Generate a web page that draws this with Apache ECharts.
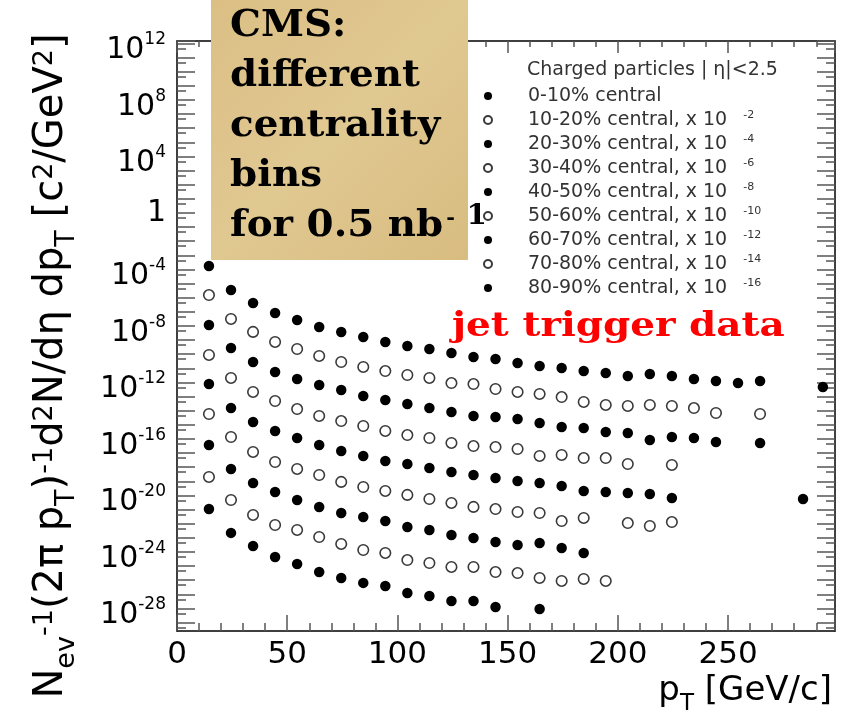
<!DOCTYPE html>
<html><head><meta charset="utf-8">
<script src="https://cdn.jsdelivr.net/npm/echarts@6/dist/echarts.min.js"></script>
<style>html,body{margin:0;padding:0;background:#fff}#c{width:848px;height:720px}</style>
</head><body><div id="c"></div>
<script>
// pT bin centres [GeV/c]
const pT = [14.5,24.5,34.5,44.5,54.5,64.5,74.5,84.5,94.5,104.5,114.5,124.5,134.5,144.5,154.5,164.5,174.5,184.5,194.5,204.5,214.5,224.5,234.5,244.5,254.5,264.5,284,293];
const seriesNames = ['0-10% central','10-20% central','20-30% central','30-40% central','40-50% central','50-60% central','60-70% central','70-80% central','80-90% central'];
const scaleExp = [0,-2,-4,-6,-8,-10,-12,-14,-16];
// log10 of the (scaled) yield
const c0_10  = [-3.75,-5.45,-6.37,-7.08,-7.58,-8.07,-8.42,-8.78,-9.13,-9.42,-9.63,-9.91,-10.19,-10.34,-10.62,-10.83,-10.97,-11.19,-11.33,-11.54,-11.40,-11.54,-11.75,-11.89,-12.04,-11.89,null,-12.32];
const c10_20 = [-5.81,-7.50,-8.42,-9.13,-9.63,-10.12,-10.55,-10.90,-11.19,-11.47,-11.68,-12.04,-12.11,-12.46,-12.67,-12.81,-13.03,-13.38,-13.59,-13.66,-13.59,-13.66,-13.81,-14.16,null,-14.23,null,null];
const c20_30 = [-7.93,-9.56,-10.55,-11.26,-11.75,-12.18,-12.53,-12.96,-13.24,-13.52,-13.81,-14.09,-14.37,-14.44,-14.58,-14.87,-15.15,-15.22,-15.50,-15.58,-16.07,-15.86,-15.93,-16.21,null,-16.28,null,null];
const c30_40 = [-10.05,-11.68,-12.67,-13.31,-13.88,-14.37,-14.73,-15.08,-15.43,-15.72,-15.93,-16.28,-16.50,-16.57,-16.71,-17.20,-17.13,-17.35,-17.35,-17.77,null,-17.84,null,null,null,null,null,null];
const c40_50 = [-12.11,-13.81,-14.80,-15.43,-15.93,-16.42,-16.85,-17.20,-17.56,-17.77,-18.05,-18.34,-18.55,-18.76,-18.97,-19.12,-19.33,-19.68,-19.75,-19.82,-19.89,-20.18,null,null,null,null,-20.25,null];
const c50_60 = [-14.23,-15.86,-16.92,-17.63,-18.12,-18.55,-19.04,-19.40,-19.68,-19.96,-20.25,-20.53,-20.81,-20.96,-21.17,-21.24,-21.81,-21.59,null,-21.95,-22.16,-21.88,null,null,null,null,null,null];
const c60_70 = [-16.42,-18.12,-19.12,-19.75,-20.32,-20.81,-21.24,-21.52,-21.81,-22.23,-22.44,-22.80,-23.01,-23.29,-23.50,-23.36,-23.72,-24.07,null,null,null,null,null,null,null,null,null,null];
const c70_80 = [-18.69,-20.32,-21.38,-22.09,-22.44,-22.94,-23.43,-23.86,-24.07,-24.57,-24.78,-25.06,-25.06,-25.42,-25.49,-25.84,-26.05,-25.91,-26.05,null,null,null,null,null,null,null,null,null];
const c80_90 = [-20.96,-22.65,-23.58,-24.35,-24.85,-25.42,-25.84,-26.19,-26.41,-26.90,-27.12,-27.47,-27.47,-27.89,null,-28.04,null,null,null,null,null,null,null,null,null,null,null,null];
const allSeries = [c0_10,c10_20,c20_30,c30_40,c40_50,c50_60,c60_70,c70_80,c80_90];
// axis ranges / ticks (y in decades)
const xMin = 0, xMax = 298.5, xMajor = 50, xMinor = 10;
const yTickMin = -29, yMaxExp = 12.177, yLabelStep = 4, shortTickOffset = 0.35;

const FONT = 'DejaVu Sans';
const chart = echarts.init(document.getElementById('c'));

function yLabel(v){
  const r = Math.round(v);
  if (Math.abs(v - r) > 1e-6 || r % yLabelStep !== 0) return '';
  if (r === 0) return '{one|1}';
  return '{b|10}{s|' + r + '}';
}
const yRich = {
  b: {fontFamily: FONT, fontSize: 30, color: '#000', verticalAlign: 'bottom', padding: [14,0,0,0]},
  s: {fontFamily: FONT, fontSize: 17, color: '#000', verticalAlign: 'top', padding: [10,0,0,0]},
  one: {fontFamily: FONT, fontSize: 30, color: '#000'}
};
const tickStyle = {color: '#555', width: 1.5};
const lineStyle = {color: '#000', width: 1.5};
const noLine = {show: false, onZero: false};

// grid 0: data + long y ticks + labels; grid 1: short y ticks; grid 2: frame + x axes
const grids = [
  {left: 177, right: 13, top: 41, bottom: 97.4},
  {left: 177, right: 13, top: 41, bottom: 92.4},
  {left: 177, right: 13, top: 41, bottom: 89}
];
const xAxes = [
  {type:'value', gridIndex:0, show:false, min:xMin, max:xMax},
  {type:'value', gridIndex:1, show:false, min:xMin, max:xMax},
  {type:'value', gridIndex:2, position:'bottom', min:xMin, max:xMax, interval:xMajor,
   axisLine:{show:true, onZero:false, lineStyle}, axisTick:{show:true, inside:true, length:16, lineStyle:tickStyle},
   axisLabel:{fontFamily:FONT, fontSize:31, color:'#000', margin:8, formatter: v => (Math.abs(v % xMajor) < 1e-6 ? String(v) : '')},
   splitLine:{show:false}},
  {type:'value', gridIndex:2, position:'bottom', min:xMin, max:xMax, interval:xMinor,
   axisLine:noLine, axisTick:{show:true, inside:true, length:8, lineStyle:tickStyle},
   axisLabel:{show:false}, splitLine:{show:false}},
  {type:'value', gridIndex:2, position:'top', min:xMin, max:xMax, interval:xMajor,
   axisLine:{show:true, onZero:false, lineStyle}, axisTick:{show:true, inside:true, length:12, lineStyle:tickStyle},
   axisLabel:{show:false}, splitLine:{show:false}},
  {type:'value', gridIndex:2, position:'top', min:xMin, max:xMax, interval:xMinor,
   axisLine:noLine, axisTick:{show:true, inside:true, length:6, lineStyle:tickStyle},
   axisLabel:{show:false}, splitLine:{show:false}}
];
const yAxes = [
  {type:'value', gridIndex:0, position:'left', min:yTickMin, max:yMaxExp, interval:1,
   axisLine:noLine, axisTick:{show:true, inside:true, length:18, lineStyle:tickStyle},
   axisLabel:{margin:11, formatter:yLabel, rich:yRich}, splitLine:{show:false}},
  {type:'value', gridIndex:0, position:'right', min:yTickMin, max:yMaxExp, interval:1,
   axisLine:noLine, axisTick:{show:true, inside:true, length:18, lineStyle:tickStyle},
   axisLabel:{show:false}, splitLine:{show:false}},
  {type:'value', gridIndex:1, position:'left', min:yTickMin - shortTickOffset, max:yMaxExp, interval:1,
   axisLine:noLine, axisTick:{show:true, inside:true, length:9, lineStyle:tickStyle},
   axisLabel:{show:false}, splitLine:{show:false}},
  {type:'value', gridIndex:1, position:'right', min:yTickMin - shortTickOffset, max:yMaxExp, interval:1,
   axisLine:noLine, axisTick:{show:true, inside:true, length:9, lineStyle:tickStyle},
   axisLabel:{show:false}, splitLine:{show:false}},
  {type:'value', gridIndex:2, position:'left', min:0, max:1,
   axisLine:{show:true, onZero:false, lineStyle}, axisTick:{show:false}, axisLabel:{show:false}, splitLine:{show:false}},
  {type:'value', gridIndex:2, position:'right', min:0, max:1,
   axisLine:{show:true, onZero:false, lineStyle}, axisTick:{show:false}, axisLabel:{show:false}, splitLine:{show:false}}
];

const series = allSeries.map((vals, i) => ({
  name: seriesNames[i], type: 'scatter', symbol: 'circle', symbolSize: 10.5,
  xAxisIndex: 0, yAxisIndex: 0, z: 5, silent: true,
  emphasis: {disabled: true},
  data: pT.map((x, k) => vals[k] == null ? null : [x, vals[k]]).filter(d => d),
  itemStyle: i % 2 === 0 ? {color: '#000', opacity: 1} : {color: '#fff', borderColor: '#3a3a3a', borderWidth: 1.6, opacity: 1}
}));

chart.setOption({
  animation: false,
  backgroundColor: '#fff',
  title: {text: 'Charged particles | \u03b7|<2.5', left: 522, top: 56,
    textStyle: {fontFamily: FONT, fontSize: 19, fontWeight: 'normal', color: '#333'}},
  legend: {
    orient: 'vertical', left: 478, top: 81, itemWidth: 8, itemHeight: 8, itemGap: 4,
    selectedMode: false, data: seriesNames,
    formatter: name => { const i = seriesNames.indexOf(name); return scaleExp[i] ? name + ', x 10{sup|' + scaleExp[i] + '}' : name; },
    textStyle: {fontFamily: FONT, fontSize: 19, color: '#333', lineHeight: 20, padding: [0,0,0,31],
      rich: {sup: {fontFamily: FONT, fontSize: 11, color: '#333', verticalAlign: 'top', padding: [0,0,0,16]}}}
  },
  grid: grids,
  xAxis: xAxes,
  yAxis: yAxes,
  series: series,
  graphic: [
    {type: 'rect', z: 100, shape: {x: 211, y: 0, width: 257, height: 260},
     style: {fill: new echarts.graphic.LinearGradient(0, 0, 1, 1, [
       {offset: 0, color: '#dbbf85'}, {offset: 0.5, color: '#e0c891'}, {offset: 1, color: '#d8bc80'}])}},
    {type: 'text', z: 101, x: 230, y: 1, scaleX: 1.05, style: {
      text: 'CMS:\ndifferent\ncentrality\nbins\nfor 0.5 nb{sup|-}{one|1}',
      fontFamily: 'DejaVu Serif', fontWeight: 'bold', fontSize: 37, lineHeight: 50, fill: '#000',
      rich: {sup: {fontFamily: 'DejaVu Serif', fontWeight: 'bold', fontSize: 20, verticalAlign: 'top', padding: [8,0,0,3]},
             one: {fontFamily: 'DejaVu Serif', fontWeight: 'bold', fontSize: 28, verticalAlign: 'top', padding: [2,0,0,11]}}}},
    {type: 'text', z: 101, x: 452, y: 327, scaleX: 1.18, style: {
      text: 'jet trigger data', fontFamily: 'DejaVu Serif', fontWeight: 'bold', fontSize: 33,
      fill: '#ff0000', verticalAlign: 'middle', align: 'left'}},
    {type: 'text', z: 50, x: 832, y: 695, style: {
      text: '{m|p}{sub|T}{m| [GeV/c]}', align: 'right', verticalAlign: 'middle', fill: '#000',
      rich: {m: {fontFamily: FONT, fontSize: 34, verticalAlign: 'bottom', padding: [0,0,7,0]},
             sub: {fontFamily: FONT, fontSize: 23, verticalAlign: 'bottom'}}}},
    {type: 'text', z: 50, x: 56, y: 366, rotation: Math.PI / 2, style: {
      text: '{m|N}{sub|ev}{sup|-1}{m|(2\u03c0 p}{sub|T}{m|)}{sup|-1}{m|d}{sup|2}{m|N/d\u03b7 dp}{sub|T}{m| [c}{sup|2}{m|/GeV}{sup|2}{m|]}',
      align: 'center', verticalAlign: 'middle', fill: '#000',
      rich: {m: {fontFamily: FONT, fontSize: 40, verticalAlign: 'bottom', padding: [0,0,9,0]},
             sub: {fontFamily: FONT, fontSize: 27, verticalAlign: 'bottom'},
             sup: {fontFamily: FONT, fontSize: 27, verticalAlign: 'top'}}}}
  ]
});
</script></body></html>
